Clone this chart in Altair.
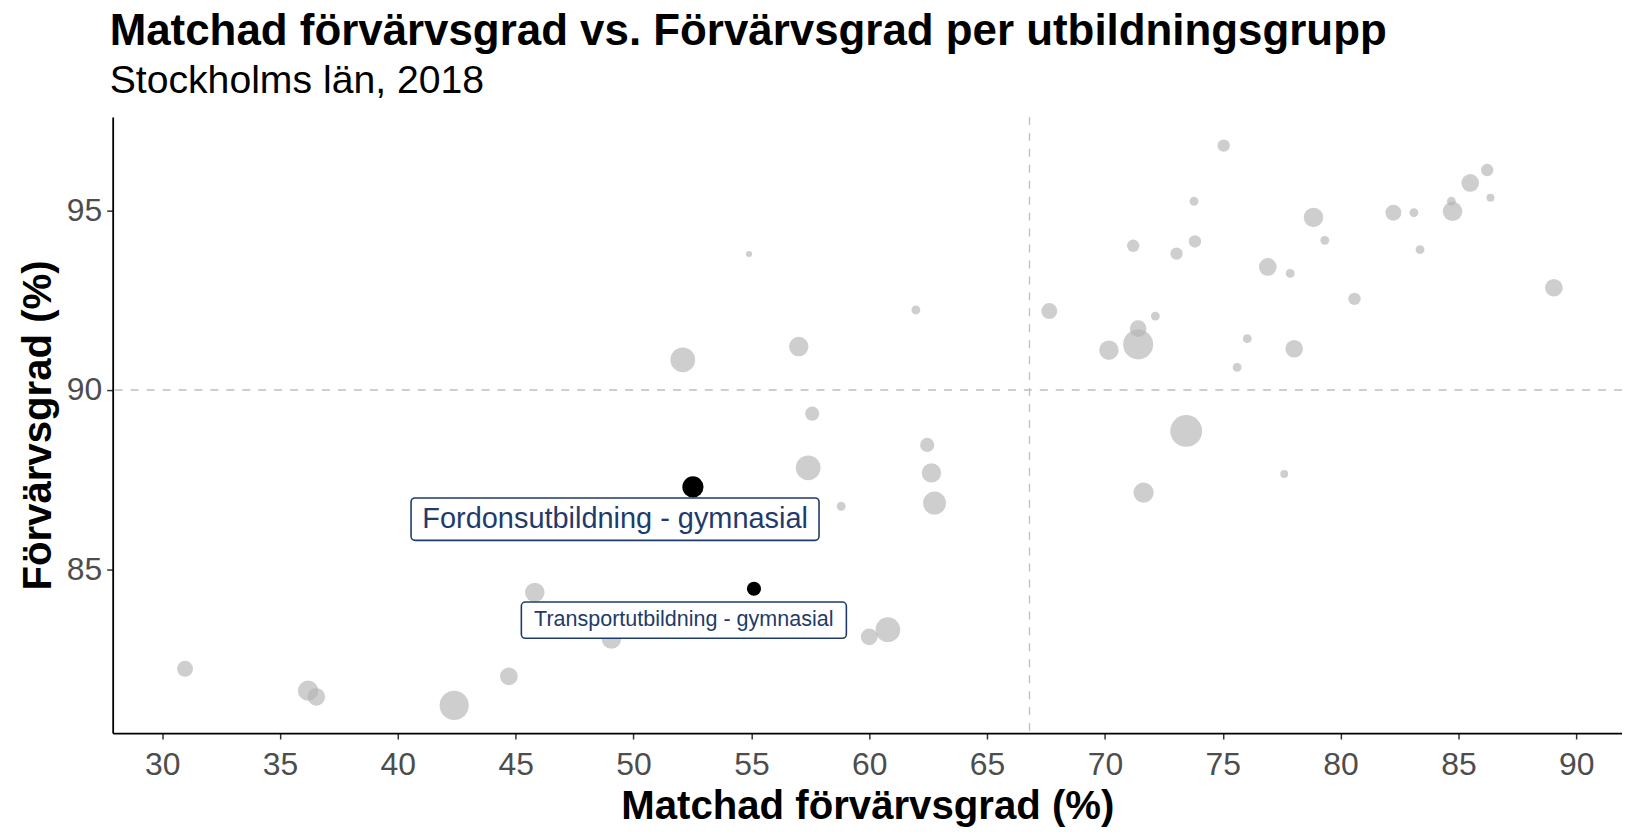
import altair as alt
import pandas as pd

# ---- data ----
matchad = [75.04, 86.22, 85.50, 86.36, 84.70, 84.75, 82.24, 83.11, 78.85, 73.78,
           73.82, 73.04, 79.33, 83.37, 76.91, 77.86, 80.59, 89.05, 72.14, 76.04,
           78.03, 75.61, 73.45, 71.41, 71.41, 70.17, 67.64, 71.20, 77.61, 71.64,
           54.90, 61.98, 57.01, 52.09, 57.58, 57.41, 62.46, 62.64, 62.77, 58.81,
           60.00, 60.79, 49.06, 45.81, 44.71, 42.39, 36.19, 36.54, 30.97]
forvarv = [96.81, 96.13, 95.77, 95.36, 95.26, 94.98, 94.94, 94.94, 94.81, 95.26,
           94.14, 93.80, 94.17, 93.91, 93.43, 93.25, 92.54, 92.85, 92.06, 91.43,
           91.15, 90.63, 88.86, 91.71, 91.27, 91.11, 92.20, 94.02, 87.66, 87.14,
           93.79, 92.23, 91.21, 90.84, 89.34, 87.83, 88.47, 87.69, 86.85, 86.76,
           83.12, 83.32, 83.06, 84.36, 82.02, 81.21, 81.62, 81.45, 82.23]
storlek = [49, 49, 100, 20, 25, 121, 81, 25, 121, 25,
           49, 49, 25, 25, 100, 25, 49, 100, 25, 25,
           100, 25, 324, 90, 289, 121, 81, 49, 20, 132,
           12, 25, 121, 196, 64, 196, 64, 121, 169, 25,
           90, 196, 121, 121, 100, 272, 132, 100, 81]

hl_namn = ["Fordonsutbildning - gymnasial", "Transportutbildning - gymnasial"]
hl_matchad = [52.52, 55.11]
hl_forvarv = [87.30, 84.46]
hl_storlek = [144, 64]

# label positions (repelled labels), in data units
lab_x = [49.22, 52.13]
lab_y = [86.40, 83.59]
box_x1 = [40.56, 45.24]
box_x2 = [57.87, 59.03]
box_y1 = [85.81, 83.08]
box_y2 = [86.99, 84.09]

ref_x = [66.8]
ref_y = [90.0]

x_ticks = [30, 35, 40, 45, 50, 55, 60, 65, 70, 75, 80, 85, 90]
y_ticks = [85, 90, 95]

# ---- chart ----
FONT = "Liberation Sans"
NAVY = "#1F3B6B"
label_fs = [29, 21.6]

xs = alt.Scale(domain=[27.90, 91.94], nice=False, zero=False)
ys = alt.Scale(domain=[80.44, 97.61], nice=False, zero=False)
ax_x = alt.Axis(values=x_ticks, title="Matchad förvärvsgrad (%)")
ax_y = alt.Axis(values=y_ticks, title="Förvärvsgrad (%)")


def X(f):
    return alt.X(f, type="quantitative", scale=xs, axis=ax_x, title="Matchad förvärvsgrad (%)")


def Y(f):
    return alt.Y(f, type="quantitative", scale=ys, axis=ax_y, title="Förvärvsgrad (%)")


size_scale = alt.Scale(domain=[0, 400], range=[0, 1257], zero=True)

df = pd.DataFrame({"x": matchad, "y": forvarv, "s": storlek})
df_hl = pd.DataFrame({"x": hl_matchad, "y": hl_forvarv, "s": hl_storlek, "namn": hl_namn})
df_vr = pd.DataFrame({"x": ref_x})
df_hr = pd.DataFrame({"y": ref_y})

vrule = alt.Chart(df_vr).mark_rule(color="#BEBEBE", strokeDash=[8, 8], strokeWidth=1.3).encode(x=X("x"))
hrule = alt.Chart(df_hr).mark_rule(color="#BEBEBE", strokeDash=[8, 8], strokeWidth=1.3).encode(y=Y("y"))

pts = alt.Chart(df).mark_circle(color="#B3B3B3", opacity=0.65).encode(
    x=X("x"), y=Y("y"),
    size=alt.Size("s:Q", scale=size_scale, legend=None),
)
hl = alt.Chart(df_hl).mark_circle(color="black", opacity=1).encode(
    x=X("x"), y=Y("y"),
    size=alt.Size("s:Q", scale=size_scale, legend=None),
)

layers = [vrule, hrule, pts, hl]
for i in range(len(hl_namn)):
    d = pd.DataFrame({"x1": [box_x1[i]], "x2": [box_x2[i]], "y1": [box_y1[i]], "y2": [box_y2[i]],
                      "lx": [lab_x[i]], "ly": [lab_y[i]], "t": [hl_namn[i]]})
    box = alt.Chart(d).mark_rect(fill="white", stroke=NAVY, strokeWidth=1.6, cornerRadius=4).encode(
        x=X("x1"), x2="x2", y=Y("y1"), y2="y2")
    txt = alt.Chart(d).mark_text(font=FONT, fontSize=label_fs[i], color=NAVY,
                                 align="center", baseline="middle").encode(
        x=X("lx"), y=Y("ly"), text="t:N")
    layers += [box, txt]

chart = alt.layer(*layers).properties(
    width=1514,
    height=618,
    autosize=alt.AutoSizeParams(type="none"),
    padding={"left": 105, "top": 108, "right": 0, "bottom": 98},
    title=alt.TitleParams(
        text="Matchad förvärvsgrad vs. Förvärvsgrad per utbildningsgrupp",
        subtitle="Stockholms län, 2018",
        anchor="start", frame="group", dx=-3,
        font=FONT, fontSize=44, fontWeight="bold", color="black",
        subtitleFont=FONT, subtitleFontSize=39.3, subtitleColor="black",
        subtitlePadding=8, offset=15,
    ),
).configure_view(stroke=None).configure_axis(
    grid=False,
    domainColor="black", domainWidth=1.8,
    tickColor="#333333", tickSize=6, tickWidth=1.5,
    labelFont=FONT, labelFontSize=32, labelColor="#4D4D4D",
    titleFont=FONT, titleFontSize=40.3, titleFontWeight="bold", titleColor="black",
).configure_axisX(labelPadding=11, titlePadding=6).configure_axisY(labelPadding=5, titlePadding=8)

chart.save("out.html", embed_options={"renderer": "svg", "actions": False})
